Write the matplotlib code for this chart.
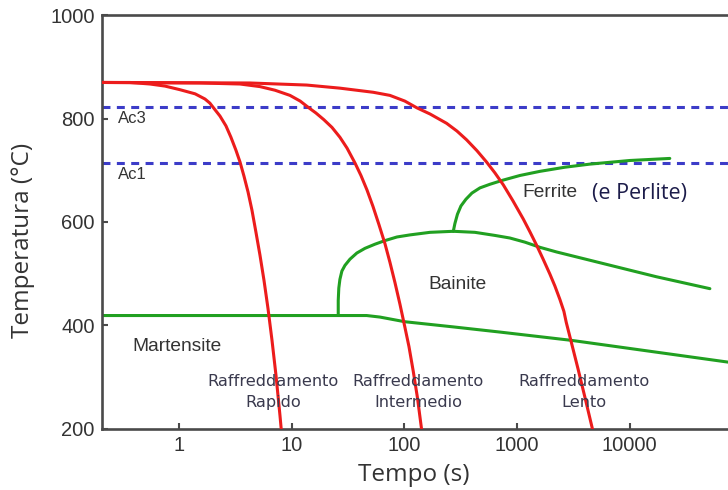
import matplotlib
matplotlib.use("Agg")
import matplotlib.pyplot as plt
from matplotlib.ticker import FixedLocator, NullLocator, FixedFormatter

# ---- data ----
ac3_temp = 822
ac1_temp = 714

rapido_t = [0.206, 0.367, 0.553, 0.751, 1.02, 1.39, 1.70, 1.88, 2.04, 2.31, 2.61, 2.89, 3.20,
            3.48, 3.77, 4.10, 4.44, 4.82, 5.23, 5.68, 6.16, 6.69, 7.26, 7.87, 8.07]
rapido_T = [870, 870, 867, 863, 856, 848, 838, 830, 820, 805, 786, 764, 739,
            716, 689, 658, 623, 580, 536, 487, 433, 371, 303, 226, 200]

intermedio_t = [0.206, 1.54, 3.48, 5.23, 7.11, 9.66, 11.9, 14.0, 16.4, 19.3, 22.8, 26.8, 31.0,
                36.5, 41.2, 46.6, 52.7, 59.5, 67.3, 74.5, 82.5, 91.4, 101, 109.9, 120, 130.7, 142]
intermedio_T = [870, 869, 867, 862, 855, 845, 834, 822, 811, 798, 783, 764, 743,
                714, 690, 662, 630, 595, 558, 522, 483, 441, 397, 359, 311, 260, 200]

lento_t = [0.206, 4.27, 13.6, 26.8, 53.0, 74.5, 101, 129, 169, 237, 293, 357, 441, 537, 637,
           755, 920, 1135, 1302, 1493, 1698, 1960, 2170, 2404, 2608, 2734, 3069, 3469, 4005, 4667]
lento_T = [870, 869, 865, 859, 851, 845, 834, 821, 809, 791, 776, 759, 738, 716, 695,
           672, 641, 606, 581, 555, 529, 499, 476, 450, 427, 406, 363, 317, 261, 200]

ms_t = [0.206, 46.3, 60.8, 101, 272, 705, 3030, 100000]
ms_T = [419, 419, 416, 407, 397, 387, 371, 325]

bainite_t = [25.9, 25.9, 26.2, 26.8, 27.9, 29.7, 32.9, 37.9, 44.7, 54.8, 67.3, 86.0, 112, 169,
             272, 423, 637, 865, 1175, 1597, 2245, 4435, 8750, 17300, 51500]
bainite_T = [419, 448, 472, 489, 505, 516, 528, 540, 549, 557, 564, 571, 575, 580,
             582, 580, 574, 569, 561, 551, 542, 526, 510, 494, 471]

ferrite_t = [272, 281, 296, 318, 352, 398, 469, 575, 752, 1061, 1597, 2661, 4435, 10000, 22700]
ferrite_T = [582, 597, 615, 631, 644, 656, 666, 673, 681, 690, 698, 706, 712, 719, 723]

x_ticks = [1, 10, 100, 1000, 10000]
x_ticklabels = ["1", "10", "100", "1000", "10000"]
y_ticks = [200, 400, 600, 800, 1000]
y_ticklabels = ["200", "400", "600", "800", "1000"]

RED = "#ec1c1c"
GREEN = "#21a021"
BLUE = "#3c3cc8"
DARK = "#333333"

fig = plt.figure(figsize=(7.28, 4.90), dpi=100)
ax = fig.add_axes([0.1397, 0.1251, 0.880, 0.8437])

ax.set_xscale("log")
ax.set_xlim(0.206, 1e5)
ax.set_ylim(200, 1000)

# dashed critical temperatures
for T in (ac3_temp, ac1_temp):
    ax.axhline(T, color=BLUE, lw=2.2, dashes=(2.6, 2.1), zorder=1)

# transformation boundaries
gkw = dict(color=GREEN, lw=2.2, solid_capstyle="round", solid_joinstyle="round", zorder=2)
ax.plot(ms_t, ms_T, **gkw)
ax.plot(bainite_t, bainite_T, **gkw)
ax.plot(ferrite_t, ferrite_T, **gkw)

# cooling curves
rkw = dict(color=RED, lw=2.2, solid_joinstyle="round", zorder=3)
for t, T in ((rapido_t, rapido_T), (intermedio_t, intermedio_T), (lento_t, lento_T)):
    ax.plot(t, T, **rkw)

# text labels
lab = dict(family="Liberation Sans", color=DARK)
ax.text(0.288, 800, "Ac3", fontsize=12, ha="left", va="center", **lab)
ax.text(0.288, 691, "Ac1", fontsize=12, ha="left", va="center", **lab)
ax.text(0.96, 359, "Martensite", fontsize=13.8, ha="center", va="center", **lab)
ax.text(299, 480, "Bainite", fontsize=13.8, ha="center", va="center", **lab)
ax.text(1960, 658, "Ferrite", fontsize=13.8, ha="center", va="center", **lab)
ax.text(12300, 655, "(e Perlite)", fontsize=15.5, ha="center", va="center",
        family="Open Sans", color="#1c1c4a")

raf = dict(family="DejaVu Sans", color="#3a3a4e", fontsize=11.6, ha="center",
           va="center", linespacing=1.5)
ax.text(6.82, 271, "Raffreddamento\nRapido", **raf)
ax.text(132, 271, "Raffreddamento\nIntermedio", **raf)
ax.text(3925, 271, "Raffreddamento\nLento", **raf)

# axes styling
for s in ax.spines.values():
    s.set_color("#4a4a4a")
    s.set_linewidth(1.9)

ax.xaxis.set_major_locator(FixedLocator(x_ticks))
ax.xaxis.set_major_formatter(FixedFormatter(x_ticklabels))
ax.xaxis.set_minor_locator(NullLocator())
ax.yaxis.set_major_locator(FixedLocator(y_ticks))
ax.yaxis.set_major_formatter(FixedFormatter(y_ticklabels))
ax.tick_params(axis="both", direction="in", length=4, width=1.5, color="#4a4a4a",
               labelsize=14.5, labelcolor=DARK, pad=5)
for lbl in ax.get_xticklabels() + ax.get_yticklabels():
    lbl.set_family("Liberation Sans")

ax.set_xlabel("Tempo (s)", family="Open Sans", fontsize=17.5, color=DARK)
ax.xaxis.set_label_coords(0.487, -0.082)
ax.set_ylabel("Temperatura (°C)", family="Open Sans", fontsize=17.5, color=DARK)
ax.yaxis.set_label_coords(-0.104, 0.456)

fig.savefig("out.png", dpi=100)
